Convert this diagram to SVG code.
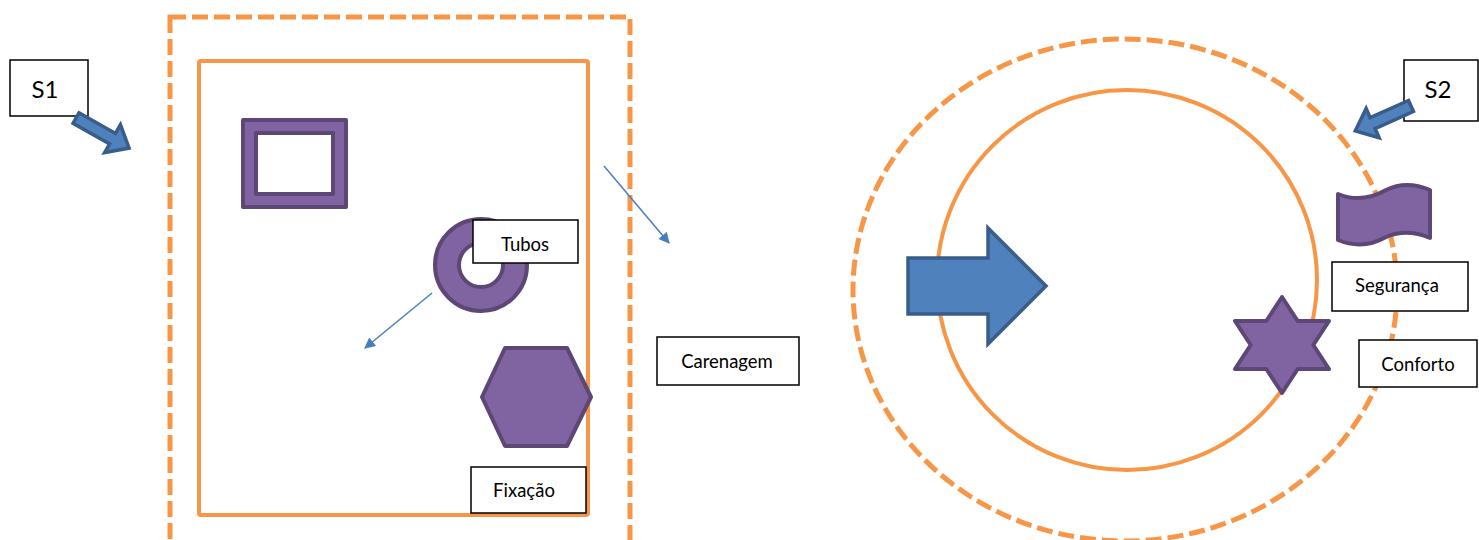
<svg xmlns="http://www.w3.org/2000/svg" width="1479" height="540" viewBox="0 0 1479 540">
  <style>
    .bound { fill: none; stroke: #F79646; stroke-width: 4; }
    .dash { stroke-width: 5; stroke-dasharray: 16 6; }
    .shape { fill: #8064A2; stroke: #5C4776; stroke-width: 4; stroke-linejoin: round; }
    .block { fill: #4F81BD; stroke: #385D8A; stroke-width: 3.5; stroke-linejoin: miter; }
    .label rect { fill: #FFFFFF; stroke: #000000; stroke-width: 1.5; }
    .label text { font-family: Lato, "Open Sans", "Liberation Sans", sans-serif; font-size: 18.5px; fill: #000000; text-anchor: middle; }
    .big text { font-size: 24px; }
    .thin { stroke: #4A7EBB; stroke-width: 1.5; fill: none; marker-end: url(#head); }
  </style>
  <defs>
    <marker id="head" viewBox="0 0 10 10" refX="9" refY="5" markerWidth="13" markerHeight="11" markerUnits="userSpaceOnUse" orient="auto">
      <path d="M0,0 L10,5 L0,10 Z" fill="#4A7EBB"/>
    </marker>
    <!-- block arrow pointing along +x, tail centred on the origin -->
    <path id="blockArrow" d="M0,-6 L42,-6 L42,-16 L61,0 L42,16 L42,6 L0,6 Z"/>
  </defs>

  <rect width="1479" height="540" fill="#FFFFFF"/>

  <!-- left system: boundaries -->
  <g id="boundary-outer-left">
    <rect class="bound dash" x="170" y="17" width="460" height="560"/>
  </g>
  <g id="boundary-inner-left">
    <rect class="bound" x="199" y="61" width="389" height="454" rx="2"/>
  </g>

  <!-- right system: boundaries -->
  <g id="boundary-outer-right">
    <ellipse class="bound dash" cx="1125" cy="290" rx="272" ry="251"/>
  </g>
  <g id="boundary-inner-right">
    <circle class="bound" cx="1127" cy="280" r="190"/>
  </g>

  <!-- components -->
  <g id="frame">
    <path class="shape" fill-rule="evenodd" d="M243,120 H346 V207 H243 Z M256,133 V194 H333 V133 Z"/>
  </g>
  <g id="ring">
    <path class="shape" fill-rule="evenodd" d="M435,265 a46,46 0 1,0 92,0 a46,46 0 1,0 -92,0 Z M459,265 a22,22 0 1,0 44,0 a22,22 0 1,0 -44,0 Z"/>
  </g>
  <g id="hexagon">
    <polygon class="shape" points="482,397 505,348 567,348 591,397 567,446 505,446"/>
  </g>
  <g id="big-arrow">
    <polygon class="block" stroke-width="4" points="908,258 988,258 988,228 1046,286 988,344 988,314 908,314"/>
  </g>
  <g id="wave">
    <path class="shape" d="M1338,194 C1355,201 1372,198 1386,190 C1400,183 1416,184 1430,190 L1430,238 C1416,232 1400,231 1386,237 C1372,245 1355,247 1338,240 Z"/>
  </g>
  <g id="star">
    <polygon class="shape" points="1282,297 1297.7,321 1329,321 1313.3,345 1329,369 1297.7,369 1282,393 1266.3,369 1235,369 1250.7,345 1235,321 1266.3,321"/>
  </g>

  <!-- labels -->
  <g id="s1" class="label big">
    <rect x="10" y="60" width="78" height="56"/>
    <text x="45" y="98">S1</text>
  </g>
  <g id="s2" class="label big">
    <rect x="1404" y="60" width="74" height="61"/>
    <text x="1438" y="98">S2</text>
  </g>
  <g id="tubos" class="label">
    <rect x="473" y="220" width="105" height="43"/>
    <text x="525" y="251">Tubos</text>
  </g>
  <g id="fixacao" class="label">
    <rect x="471" y="467" width="115" height="46"/>
    <text x="524" y="497">Fixação</text>
  </g>
  <g id="carenagem" class="label">
    <rect x="657" y="337" width="142" height="48"/>
    <text x="727" y="368">Carenagem</text>
  </g>
  <g id="seguranca" class="label">
    <rect x="1332" y="262" width="136" height="49"/>
    <text x="1397" y="292">Segurança</text>
  </g>
  <g id="conforto" class="label">
    <rect x="1359" y="340" width="118" height="47"/>
    <text x="1418" y="371">Conforto</text>
  </g>

  <!-- connectors -->
  <g id="connectors">
    <use href="#blockArrow" class="block" transform="translate(76,118) rotate(29.5)"/>
    <use href="#blockArrow" class="block" transform="translate(1411,106) rotate(156)"/>
    <line class="thin" x1="604" y1="166" x2="669" y2="243"/>
    <line class="thin" x1="432" y1="293" x2="365" y2="348"/>
  </g>
</svg>
